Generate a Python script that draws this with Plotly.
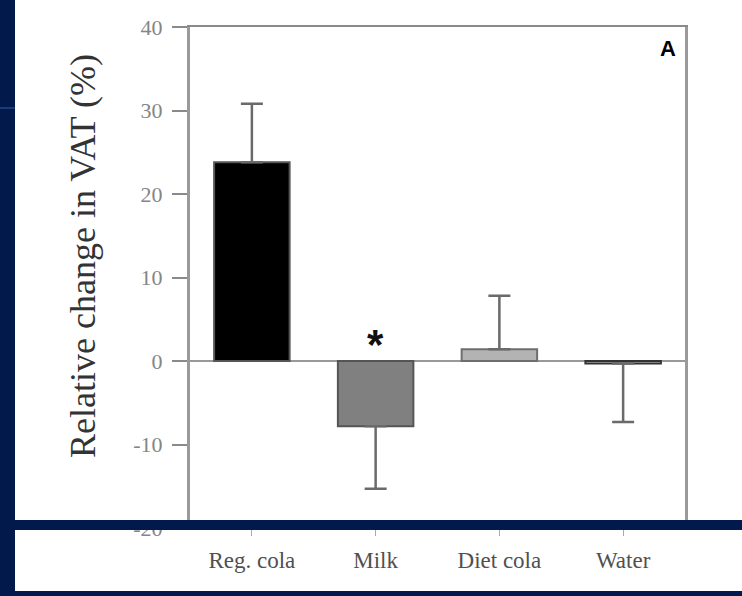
import plotly.graph_objects as go

# Relative change in visceral adipose tissue by beverage group
categories = ["Reg. cola", "Milk", "Diet cola", "Water"]
change_pct = [23.8, -7.8, 1.4, -0.3]
err_up = [7.0, 0.0, 6.4, 0.0]
err_down = [0.0, 7.5, 0.0, 7.0]
fill_colors = ["#000000", "#808080", "#b3b3b3", "#d0d0d0"]
edge_colors = ["#555555", "#555555", "#6e6e6e", "#333333"]
y_ticks = [-20, -10, 0, 10, 20, 30, 40]
y_tick_text = [str(v) for v in y_ticks]

W, H = 742, 596
ML, MR, MT, MB = 190, 57, 27, 68
PW, PH = W - ML - MR, H - MT - MB
NAVY = "#01194b"


def px_x(x):
    return (x - ML) / PW


def px_y(y):
    return (H - MB - y) / PH


fig = go.Figure()
fig.add_trace(go.Bar(
    x=categories,
    y=change_pct,
    width=0.61,
    marker=dict(color=fill_colors, line=dict(color=edge_colors, width=2)),
    error_y=dict(type="data", symmetric=False, array=err_up, arrayminus=err_down,
                 color="#6a6a6a", thickness=2.5, width=11),
    showlegend=False,
))

fig.update_layout(
    width=W, height=H,
    margin=dict(l=ML, r=MR, t=MT, b=MB),
    paper_bgcolor="white",
    plot_bgcolor="white",
    xaxis=dict(
        range=[-0.5, 3.5], showline=True, linecolor="#8a8a8a", linewidth=2, mirror=True,
        ticks="outside", ticklen=6, tickcolor="#aaaaaa", tickwidth=1,
        ticklabelstandoff=4,
        tickfont=dict(family="Liberation Serif", size=23, color="#505050"),
        showgrid=False, zeroline=False,
    ),
    yaxis=dict(
        range=[-20, 40], tickvals=y_ticks, ticktext=y_tick_text,
        showline=True, linecolor="#9a9a9a", linewidth=3,
        mirror=True, ticks="outside", ticklen=15, tickcolor="#8a8a8a", tickwidth=2,
        ticklabelstandoff=5,
        tickfont=dict(family="Liberation Serif", size=22, color="#858585"),
        showgrid=False, zeroline=True, zerolinecolor="#999999", zerolinewidth=1.5,
    ),
    annotations=[
        dict(text="Relative change in VAT (%)", textangle=-90, showarrow=False,
             xref="paper", yref="paper", x=px_x(83), y=px_y(256),
             xanchor="center", yanchor="middle",
             font=dict(family="Liberation Serif", size=36, color="#333333")),
        dict(text="<b>A</b>", showarrow=False, xref="paper", yref="paper",
             x=px_x(668), y=px_y(48), xanchor="center", yanchor="middle",
             font=dict(family="Liberation Sans", size=22, color="#000000")),
        dict(text="<b>*</b>", showarrow=False, xref="x", yref="y",
             x=categories[1], y=0, xanchor="center", yanchor="bottom", yshift=-9,
             font=dict(family="Liberation Sans", size=42, color="#111111")),
    ],
    shapes=[
        # left navy border
        dict(type="rect", xref="paper", yref="paper", layer="above",
             x0=px_x(0), x1=px_x(15), y0=px_y(H), y1=px_y(0),
             fillcolor=NAVY, line=dict(width=0)),
        # faint divider inside the left border
        dict(type="line", xref="paper", yref="paper", layer="above",
             x0=px_x(0), x1=px_x(15), y0=px_y(108), y1=px_y(108),
             line=dict(color="#1c3a74", width=2)),
        # navy band across the lower part
        dict(type="rect", xref="paper", yref="paper", layer="above",
             x0=px_x(0), x1=px_x(W), y0=px_y(530), y1=px_y(520),
             fillcolor=NAVY, line=dict(width=0)),
        # navy strip at the bottom edge
        dict(type="rect", xref="paper", yref="paper", layer="above",
             x0=px_x(0), x1=px_x(W), y0=px_y(H), y1=px_y(591),
             fillcolor=NAVY, line=dict(width=0)),
    ],
)

fig.write_html("out.html")
